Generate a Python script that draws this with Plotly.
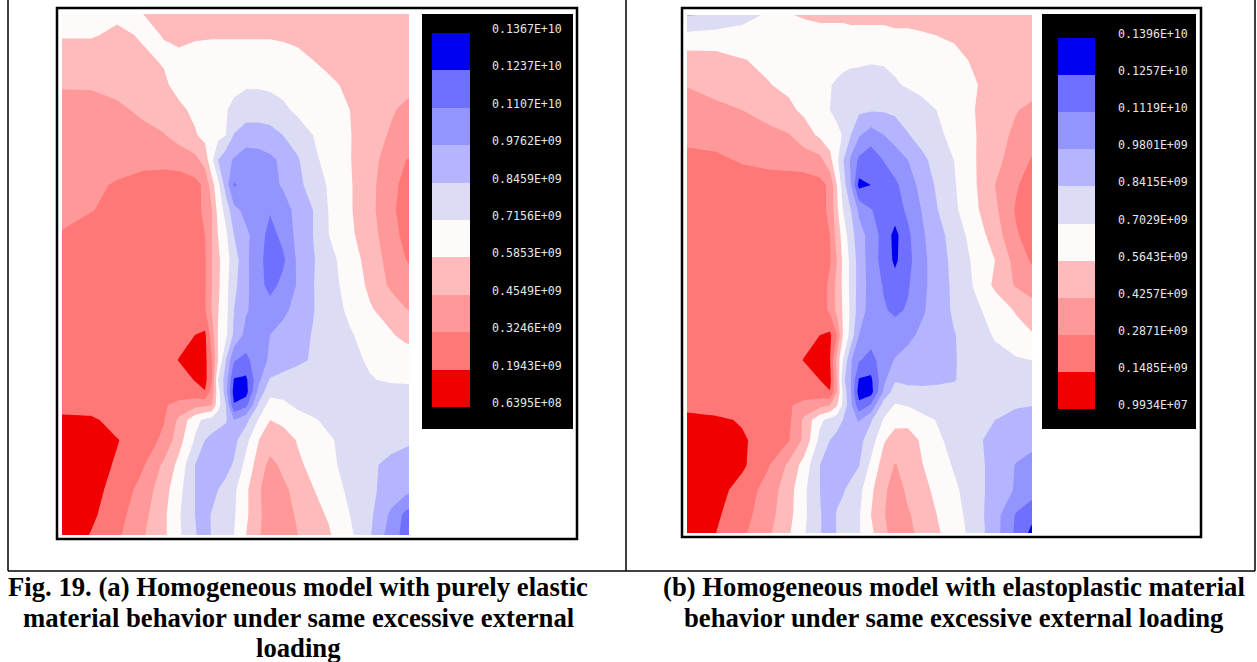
import plotly.graph_objects as go

W, H = 1257, 662

COLS = [62, 91, 117, 143, 164, 179, 195, 205, 212, 218, 226, 234, 246, 259, 270, 283, 298, 313, 329, 350, 370, 391, 406, 421]
ROWS_A = [14, 35, 60, 85, 110, 135, 160, 185, 210, 235, 260, 285, 310, 335, 360, 380, 392, 405, 420, 440, 465, 490, 515, 535]
ROWS_B = [15, 35, 60, 85, 110, 135, 160, 185, 210, 235, 260, 285, 310, 335, 360, 380, 392, 405, 420, 440, 465, 490, 515, 533]

# stress, expressed on the ten-band legend scale (0 = lowest band)
Z_A = [
    [4.5, 4.5, 4.2, 4.0, 3.6, 3.5, 3.5, 3.5, 3.5, 3.5, 3.5, 3.5, 3.5, 3.5, 3.5, 3.5, 3.5, 3.5, 3.5, 3.5, 3.5, 3.5, 3.5, 3.5],
    [4.1, 4.1, 3.8, 4.1, 3.98, 3.9, 3.9, 3.9, 3.9, 3.9, 3.9, 3.9, 3.9, 3.9, 3.9, 3.85, 3.8, 3.7, 3.6, 3.5, 3.5, 3.5, 3.5, 3.5],
    [3.4, 3.4, 3.4, 3.85, 4.08, 4.1, 4.3, 4.4, 4.5, 4.5, 4.5, 4.5, 4.5, 4.5, 4.5, 4.4, 4.2, 4.0, 3.8, 3.6, 3.5, 3.5, 3.5, 3.5],
    [3.1, 3.1, 3.3, 3.5, 3.85, 4.3, 4.2, 4.3, 4.4, 4.5, 4.7, 4.8, 4.9, 4.9, 4.85, 4.7, 4.5, 4.3, 4.15, 3.85, 3.6, 3.5, 3.3, 3.1],
    [2.5, 2.6, 2.8, 3.2, 3.5, 3.8, 4.2, 4.4, 4.6, 4.8, 4.95, 5.2, 5.5, 5.5, 5.4, 5.2, 4.8, 4.5, 4.3, 4.0, 3.5, 3.1, 2.8, 2.6],
    [2.4, 2.4, 2.5, 2.7, 2.95, 3.4, 3.9, 4.3, 4.5, 4.7, 5.0, 6.05, 6.5, 6.5, 6.4, 6.0, 5.5, 5.0, 4.55, 4.05, 3.4, 2.9, 2.6, 2.4],
    [2.3, 2.3, 2.2, 2.3, 2.3, 2.4, 2.7, 3.4, 4.8, 6.0, 6.7, 7.1, 7.5, 7.4, 7.2, 6.8, 6.1, 5.2, 4.7, 4.05, 3.3, 2.6, 2.0, 1.7],
    [2.3, 2.1, 1.95, 1.6, 1.5, 1.5, 1.7, 2.2, 3.6, 4.7, 6.5, 8.1, 7.7, 7.5, 7.3, 6.9, 6.3, 5.5, 4.9, 4.1, 3.3, 2.3, 1.7, 1.5],
    [2.4, 2.05, 1.7, 1.5, 1.5, 1.5, 1.7, 2.2, 3.0, 4.3, 5.4, 6.7, 7.3, 7.6, 7.9, 7.4, 6.7, 6.0, 4.95, 4.1, 3.3, 2.2, 1.6, 1.4],
    [1.9, 1.5, 1.5, 1.5, 1.5, 1.5, 1.6, 2.0, 3.0, 4.0, 4.8, 6.0, 6.8, 7.5, 8.4, 7.7, 6.7, 6.0, 5.0, 4.2, 3.4, 2.4, 1.7, 1.4],
    [1.5, 1.5, 1.5, 1.5, 1.5, 1.5, 1.5, 1.9, 3.0, 3.8, 4.6, 5.5, 6.8, 7.7, 8.5, 8.2, 6.8, 6.1, 5.3, 4.5, 3.6, 2.6, 2.0, 1.7],
    [1.5, 1.5, 1.5, 1.5, 1.5, 1.5, 1.5, 1.9, 3.0, 3.8, 4.7, 5.7, 6.8, 7.6, 8.4, 7.7, 6.9, 6.05, 5.4, 4.6, 3.8, 2.8, 2.2, 2.1],
    [1.5, 1.5, 1.5, 1.5, 1.5, 1.5, 1.5, 1.9, 3.1, 3.95, 4.7, 6.0, 6.9, 7.4, 7.5, 7.2, 6.7, 6.05, 5.5, 4.8, 4.1, 3.6, 3.05, 2.8],
    [1.5, 1.5, 1.5, 1.5, 1.5, 1.5, 1.0, 0.8, 2.5, 4.05, 4.8, 6.2, 7.3, 7.4, 7.0, 6.7, 6.3, 5.95, 5.6, 5.1, 4.6, 4.1, 3.7, 3.5],
    [1.5, 1.5, 1.5, 1.5, 1.5, 0.95, 0.6, 0.7, 2.0, 4.0, 6.0, 7.9, 8.3, 7.3, 6.9, 6.6, 6.2, 5.9, 5.5, 5.2, 4.9, 4.7, 4.6, 4.5],
    [1.5, 1.5, 1.5, 1.5, 1.5, 1.5, 0.95, 0.7, 2.0, 5.0, 6.5, 9.1, 9.2, 7.2, 5.9, 5.6, 5.5, 5.5, 5.5, 5.4, 5.05, 4.9, 4.85, 4.8],
    [1.5, 1.5, 1.5, 1.5, 1.5, 1.5, 1.4, 1.05, 2.4, 4.6, 6.6, 9.5, 9.4, 6.6, 5.3, 5.3, 5.4, 5.5, 5.5, 5.5, 5.4, 5.3, 5.3, 5.3],
    [1.5, 1.5, 1.5, 1.5, 1.9, 2.3, 2.6, 2.8, 3.0, 4.6, 6.0, 8.9, 8.3, 5.8, 4.6, 4.8, 5.2, 5.4, 5.5, 5.5, 5.5, 5.5, 5.5, 5.5],
    [0.7, 0.8, 1.4, 1.6, 1.95, 3.2, 4.7, 5.2, 5.4, 5.6, 5.9, 7.0, 6.3, 4.9, 4.0, 4.3, 4.6, 4.9, 5.2, 5.4, 5.5, 5.5, 5.5, 5.5],
    [0.4, 0.5, 0.95, 1.5, 2.2, 3.6, 5.1, 6.0, 6.3, 6.5, 6.5, 6.3, 5.3, 4.0, 3.5, 3.4, 4.1, 4.5, 4.9, 5.3, 5.5, 5.6, 5.8, 5.95],
    [0.5, 0.6, 1.1, 1.9, 3.2, 4.3, 6.0, 6.3, 6.5, 6.5, 6.3, 5.9, 4.7, 3.5, 2.7, 3.2, 3.8, 4.3, 4.8, 5.3, 5.8, 6.3, 6.5, 6.6],
    [0.5, 0.7, 1.3, 2.4, 3.6, 4.7, 6.0, 6.5, 6.4, 6.0, 5.7, 5.2, 4.2, 3.1, 2.5, 2.8, 3.3, 3.95, 4.5, 5.2, 5.8, 6.4, 6.7, 6.95],
    [0.5, 0.8, 1.6, 2.7, 3.8, 4.9, 6.0, 6.4, 5.9, 5.7, 5.5, 5.1, 4.2, 3.1, 2.7, 2.7, 3.1, 3.7, 4.1, 5.0, 5.8, 7.2, 8.3, 8.8],
    [0.4, 1.05, 1.8, 2.9, 3.8, 4.85, 5.9, 6.5, 5.9, 5.7, 5.4, 5.0, 4.0, 3.05, 2.7, 2.6, 3.0, 3.5, 3.9, 4.8, 5.9, 7.5, 8.4, 8.9],
]

Z_B = [
    [6.1, 5.8, 5.3, 4.9, 4.05, 3.9, 3.8, 3.8, 3.8, 3.8, 3.7, 3.7, 3.7, 3.7, 3.6, 3.6, 3.5, 3.5, 3.5, 3.5, 3.5, 3.5, 3.5, 3.5],
    [4.8, 4.7, 4.7, 4.6, 4.5, 4.4, 4.3, 4.3, 4.3, 4.3, 4.3, 4.3, 4.3, 4.3, 4.2, 4.2, 4.1, 3.98, 3.9, 3.6, 3.5, 3.5, 3.5, 3.5],
    [3.5, 3.6, 3.95, 4.2, 4.4, 4.5, 4.5, 4.6, 4.6, 4.7, 4.8, 4.8, 4.9, 4.9, 4.8, 4.8, 4.6, 4.4, 4.2, 3.9, 3.6, 3.5, 3.5, 3.5],
    [3.05, 3.3, 3.6, 3.95, 4.2, 4.4, 4.7, 4.95, 5.15, 5.3, 5.4, 5.5, 5.5, 5.3, 5.1, 4.9, 4.6, 4.4, 4.25, 4.05, 3.7, 3.5, 3.4, 3.2],
    [2.5, 2.8, 3.0, 3.4, 3.8, 4.2, 4.7, 5.0, 5.2, 5.4, 5.6, 5.8, 5.9, 5.9, 5.8, 5.6, 5.4, 4.95, 4.5, 4.0, 3.5, 3.05, 2.8, 2.6],
    [2.3, 2.4, 2.5, 2.7, 2.95, 3.5, 4.2, 4.5, 4.8, 5.05, 6.0, 6.9, 7.5, 7.0, 6.6, 6.05, 5.6, 5.2, 4.7, 4.05, 3.4, 2.8, 2.5, 2.3],
    [1.7, 1.8, 2.1, 2.3, 2.4, 2.5, 2.7, 3.7, 4.8, 5.9, 7.2, 8.2, 8.6, 7.95, 7.5, 7.0, 6.2, 5.6, 5.0, 4.05, 3.3, 2.5, 1.95, 1.6],
    [1.5, 1.5, 1.5, 1.5, 1.5, 1.5, 1.7, 2.2, 4.0, 5.5, 7.0, 9.3, 9.0, 8.6, 8.2, 7.5, 6.6, 5.8, 5.1, 4.1, 3.0, 2.1, 1.6, 1.2],
    [1.5, 1.5, 1.5, 1.5, 1.5, 1.5, 1.7, 2.2, 3.8, 5.0, 6.0, 7.2, 7.95, 8.4, 8.5, 7.8, 6.9, 6.0, 5.2, 4.2, 3.2, 1.9, 1.4, 1.0],
    [1.5, 1.5, 1.5, 1.5, 1.5, 1.5, 1.5, 2.0, 3.4, 4.4, 5.6, 6.6, 7.4, 8.4, 9.3, 8.2, 7.1, 6.4, 5.5, 4.6, 3.5, 2.1, 1.6, 1.3],
    [1.5, 1.5, 1.5, 1.5, 1.5, 1.5, 1.5, 1.9, 3.0, 4.2, 5.3, 6.4, 7.5, 8.4, 9.2, 8.3, 7.2, 6.5, 5.7, 4.8, 4.0, 2.6, 1.9, 1.6],
    [1.5, 1.5, 1.5, 1.5, 1.5, 1.5, 1.5, 2.2, 3.3, 4.2, 5.3, 6.4, 7.4, 8.1, 8.6, 8.1, 7.2, 6.5, 5.8, 4.9, 3.8, 2.9, 2.5, 2.3],
    [1.5, 1.5, 1.5, 1.5, 1.5, 1.5, 1.5, 2.2, 3.3, 4.1, 5.2, 6.5, 7.4, 7.9, 8.2, 7.9, 7.1, 6.5, 5.85, 5.2, 4.6, 3.9, 3.5, 3.2],
    [1.5, 1.5, 1.5, 1.5, 1.5, 1.5, 1.0, 0.8, 2.0, 4.0, 5.4, 7.0, 7.5, 7.6, 7.5, 7.2, 6.8, 6.4, 6.05, 5.5, 4.9, 4.4, 4.1, 3.9],
    [1.5, 1.5, 1.5, 1.5, 1.5, 0.95, 0.6, 0.95, 3.3, 5.0, 6.9, 7.9, 8.4, 7.4, 6.95, 6.7, 6.4, 6.3, 6.05, 5.7, 5.3, 5.1, 5.0, 4.9],
    [1.5, 1.5, 1.5, 1.5, 1.5, 1.5, 1.0, 0.7, 3.0, 5.7, 7.0, 9.1, 9.2, 7.2, 6.1, 6.3, 6.3, 6.2, 6.05, 5.6, 5.5, 5.5, 5.5, 5.5],
    [1.5, 1.5, 1.5, 1.5, 1.5, 1.5, 1.4, 1.05, 3.0, 5.2, 7.0, 9.5, 9.4, 6.8, 5.5, 5.6, 5.7, 5.7, 5.7, 5.6, 5.5, 5.5, 5.6, 5.7],
    [1.5, 1.5, 1.5, 1.5, 1.9, 2.3, 2.6, 2.95, 3.9, 5.2, 6.8, 8.7, 7.9, 5.5, 4.95, 5.05, 5.3, 5.4, 5.5, 5.6, 5.7, 5.9, 5.95, 6.05],
    [0.5, 0.8, 1.1, 1.4, 1.8, 3.2, 4.8, 5.3, 5.6, 6.0, 6.6, 7.1, 6.1, 4.9, 4.3, 4.5, 4.8, 5.05, 5.3, 5.6, 6.0, 6.3, 6.5, 6.5],
    [0.4, 0.5, 0.85, 1.5, 1.95, 3.2, 5.3, 6.0, 6.3, 6.5, 6.5, 6.3, 5.5, 4.1, 3.6, 3.3, 4.3, 4.9, 5.2, 5.8, 6.3, 6.5, 6.6, 6.7],
    [0.4, 0.4, 0.8, 1.9, 3.2, 4.4, 6.0, 6.4, 6.6, 6.6, 6.4, 6.05, 4.8, 3.5, 2.95, 3.3, 4.0, 4.5, 5.1, 5.7, 6.3, 7.05, 7.4, 7.6],
    [0.4, 0.6, 1.4, 2.4, 3.6, 4.8, 6.0, 6.5, 6.3, 6.1, 5.7, 5.3, 4.2, 3.2, 2.5, 3.2, 3.7, 4.3, 4.8, 5.6, 6.4, 7.1, 7.5, 7.7],
    [0.4, 0.85, 1.6, 2.6, 3.7, 4.8, 5.9, 6.7, 5.9, 5.7, 5.5, 5.1, 4.0, 3.05, 2.5, 2.9, 3.4, 4.05, 4.6, 5.5, 6.6, 8.1, 8.7, 9.0],
    [0.4, 1.0, 1.8, 2.8, 3.9, 4.9, 5.9, 6.7, 5.9, 5.7, 5.4, 5.1, 4.2, 3.2, 2.6, 2.7, 3.4, 3.9, 4.5, 5.4, 6.6, 8.2, 9.2, 9.5],
]

BAND_COLORS = ["#F00000", "#FF7777", "#FF9999", "#FFBBBB", "#FFFAFA",
               "#DCDCF5", "#B5B5FF", "#9494FF", "#7070FF", "#0000F0"]
LEGEND_BANDS = [0, 1, 2, 3, 4, 5, 6, 7, 8, 9]
LABELS_A = ["0.6395E+08", "0.1943E+09", "0.3246E+09", "0.4549E+09", "0.5853E+09", "0.7156E+09",
            "0.8459E+09", "0.9762E+09", "0.1107E+10", "0.1237E+10", "0.1367E+10"]
LABELS_B = ["0.9934E+07", "0.1485E+09", "0.2871E+09", "0.4257E+09", "0.5643E+09", "0.7029E+09",
            "0.8415E+09", "0.9801E+09", "0.1119E+10", "0.1257E+10", "0.1396E+10"]

CAPTIONS = [
    ("Fig. 19. (a) Homogeneous model with purely elastic", 298, 587),
    ("material behavior under same excessive external", 298, 618),
    ("loading", 298, 648),
    ("(b) Homogeneous model with elastoplastic material", 954, 587),
    ("behavior under same excessive external loading", 954, 618),
]


def px(x):
    return x / W


def py(y):
    return 1 - y / H


band_scale = []
for i, c in enumerate(BAND_COLORS):
    band_scale.append([i / 10, c])
    band_scale.append([(i + 1) / 10, c])

fig = go.Figure()


def add_panel(z, rows, suffix_x, suffix_y):
    fig.add_trace(go.Contour(
        x=COLS, y=rows, z=z, xaxis=suffix_x, yaxis=suffix_y, showscale=False,
        autocontour=False, contours=dict(start=0, end=10, size=1, coloring="fill", showlines=False),
        line=dict(width=0, smoothing=0), colorscale=band_scale, zmin=0, zmax=10, hoverinfo="skip",
    ))


def add_legend(suffix_x, suffix_y):
    fig.add_trace(go.Heatmap(
        x=[0], y=LEGEND_BANDS, z=[[b + 0.5] for b in LEGEND_BANDS], xaxis=suffix_x, yaxis=suffix_y,
        showscale=False, colorscale=band_scale, zmin=0, zmax=10, hoverinfo="skip",
        xgap=0, ygap=0,
    ))


add_panel(Z_A, ROWS_A, "x", "y")
add_panel(Z_B, ROWS_B, "x2", "y2")
add_legend("x3", "y3")
add_legend("x4", "y4")


def hidden(**kw):
    return dict(visible=False, fixedrange=True, **kw)


def legend_yaxis(labels, top, bottom, box_top, box_bottom, label_shift, anchor):
    band = (box_bottom - box_top) / 10
    low = -0.5 - (bottom - box_bottom) / band
    high = 9.5 + (box_top - top) / band
    vals = [k - 0.5 + label_shift / band for k in range(11)]
    return dict(domain=[py(bottom), py(top)], range=[low, high], side="right", anchor=anchor,
                tickmode="array", tickvals=vals, ticktext=labels, ticks="", showgrid=False,
                zeroline=False, showline=False, fixedrange=True,
                tickfont=dict(family="DejaVu Sans Mono", size=11.6, color="#E6E6E6"))


def legend_xaxis(box_l, box_r, right):
    w = box_r - box_l
    return hidden(domain=[px(box_l), px(right)], range=[-0.5, -0.5 + (right - box_l) / w])


fig.update_layout(
    width=W, height=H, margin=dict(l=0, r=0, t=0, b=0), autosize=False,
    paper_bgcolor="white", plot_bgcolor="rgba(0,0,0,0)", showlegend=False,
    xaxis=hidden(domain=[px(62), px(409)], range=[62, 409], anchor="y"),
    yaxis=hidden(domain=[py(535), py(14)], range=[535, 14], anchor="x"),
    xaxis2=hidden(domain=[px(687), px(1032)], range=[62, 407], anchor="y2"),
    yaxis2=hidden(domain=[py(533), py(15)], range=[533, 15], anchor="x2"),
    xaxis3=legend_xaxis(432, 470, 491),
    yaxis3=legend_yaxis(LABELS_A, 14, 429, 33, 407, 4, "x3"),
    xaxis4=legend_xaxis(1058, 1095, 1117),
    yaxis4=legend_yaxis(LABELS_B, 14, 429, 38, 409, 4, "x4"),
    font=dict(family="Liberation Serif"),
)

shapes = []
for x0, y0, x1, y1 in [(422, 14, 573, 429), (1042, 14, 1196, 429)]:
    shapes.append(dict(type="rect", xref="paper", yref="paper", layer="below",
                       x0=px(x0), x1=px(x1), y0=py(y1), y1=py(y0),
                       fillcolor="black", line=dict(width=0)))
for x0, y0, x1, y1 in [(57, 8, 577, 539), (682, 8, 1201, 537)]:
    shapes.append(dict(type="rect", xref="paper", yref="paper", layer="below",
                       x0=px(x0), x1=px(x1), y0=py(y1), y1=py(y0),
                       line=dict(color="black", width=2.5)))
for x0, y0, x1, y1 in [(8, 0, 8, 571), (626, 0, 626, 571), (1255, 0, 1255, 571), (8, 571, 1255, 571)]:
    shapes.append(dict(type="line", xref="paper", yref="paper", layer="below",
                       x0=px(x0), x1=px(x1), y0=py(y0), y1=py(y1),
                       line=dict(color="black", width=1.5)))
fig.update_layout(shapes=shapes)

for text, x, y in CAPTIONS:
    fig.add_annotation(text=f"<b>{text}</b>", xref="paper", yref="paper", x=px(x), y=py(y),
                       xanchor="center", yanchor="middle", showarrow=False,
                       font=dict(family="Liberation Serif", size=26.7, color="black"))

fig.write_html("out.html", config=dict(displayModeBar=False, responsive=False),
               post_script="document.body.style.margin='0';")
